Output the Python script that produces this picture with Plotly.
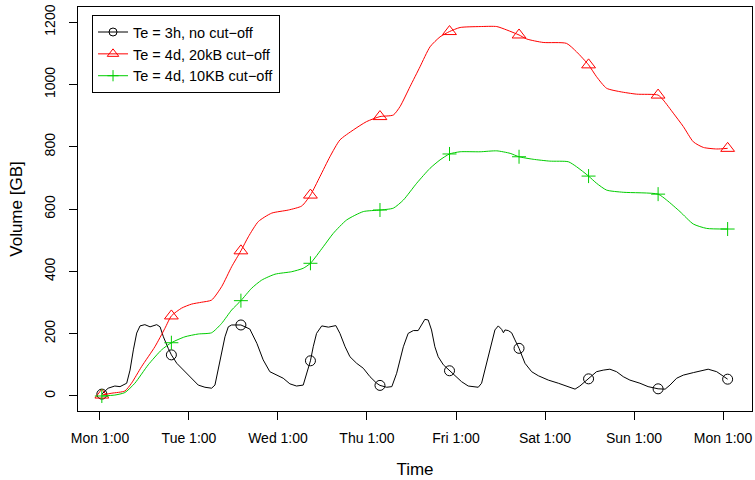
import plotly.graph_objects as go

# ---- data (time in hours since Mon 1:00, volume in GB) ----
TICK_HOURS = [0, 24, 48, 72, 96, 120, 144, 168]
TICK_TEXT = ["Mon 1:00", "Tue 1:00", "Wed 1:00", "Thu 1:00",
             "Fri 1:00", "Sat 1:00", "Sun 1:00", "Mon 1:00"]
Y_TICKS = [0, 200, 400, 600, 800, 1000, 1200]

MARK_HOURS = [0.5, 19.25, 38, 56.75, 75.5, 94.25, 113, 131.75, 150.5, 169.25]

# Te = 3h, no cut-off
black_hours = [0.5, 2.2, 4.0, 5.4, 7.2, 8.1, 9.0, 9.9, 10.8, 12.1, 13.5, 14.3, 15.3, 16.2,
               17.1, 18.4, 19.25, 20.7, 22.5, 24.7, 26.5, 28.3, 30.1, 31.0, 32.4, 33.7,
               34.6, 35.5, 38.0, 40.4, 42.3, 44.0, 45.8, 47.6, 49.4, 51.2, 53.0, 54.8,
               55.7, 56.75, 57.5, 58.4, 59.8, 61.6, 63.6, 64.7, 66.1, 67.4, 69.2, 71.0,
               72.8, 74.6, 75.5, 77.3, 78.7, 80.0, 81.8, 83.1, 84.5, 85.8, 86.7, 87.6,
               88.5, 89.4, 90.3, 91.2, 92.6, 94.25, 95.7, 97.5, 99.3, 102.0, 102.9, 103.8,
               105.2, 106.5, 107.4, 108.3, 108.8, 109.2, 110.1, 111.0, 111.9, 113.0, 114.6,
               116.4, 118.2, 120.9, 123.6, 126.3, 128.1, 129.4, 131.75, 133.9, 135.7,
               137.5, 139.3, 141.1, 142.9, 145.6, 147.8, 150.5, 152.4, 153.7, 155.5,
               157.3, 160.0, 161.8, 164.0, 166.3, 169.25]
black_vals = [6, 25, 32, 30, 41, 83, 148, 202, 225, 229, 222, 225, 229, 222,
              190, 153, 132, 105, 83, 57, 35, 28, 25, 35, 116, 190,
              222, 228, 228, 215, 169, 116, 78, 67, 57, 39, 32, 35,
              73, 113, 158, 201, 225, 221, 226, 201, 158, 126, 105, 89,
              62, 41, 34, 28, 30, 73, 158, 201, 210, 210, 228, 246,
              244, 212, 158, 126, 100, 81, 67, 46, 32, 28, 41, 83,
              158, 212, 225, 214, 203, 212, 210, 203, 180, 153, 105,
              78, 65, 51, 41, 30, 22, 32, 55, 78, 83,
              86, 78, 62, 51, 41, 30, 23, 22, 35, 57,
              67, 75, 80, 86, 78, 54]
black_marks = [6, 132, 228, 113, 34, 81, 153, 55, 23, 54]

# Te = 4d, 20kB cut-off
red_hours = [0.5, 3.2, 6.7, 8.5, 11.2, 14.8, 17.5, 19.25, 22.0, 24.7, 27.4, 30.1, 32.8,
             35.5, 38.0, 40.0, 42.7, 46.3, 50.8, 54.4, 56.75, 59.3, 62.0, 64.7, 68.3,
             71.9, 75.5, 79.1, 80.9, 83.6, 86.3, 89.0, 91.7, 94.25, 97.1, 102.5, 107.0,
             109.7, 113.0, 115.1, 119.5, 125.8, 128.5, 131.75, 133.9, 136.6, 140.2,
             144.7, 150.5, 151.9, 154.6, 157.3, 160.0, 162.7, 166.3, 169.25]
red_vals = [3, 9, 16, 41, 94, 158, 217, 257, 282, 295, 301, 308, 351,
            415, 466, 511, 560, 587, 597, 610, 645, 704, 768, 822, 854,
            881, 897, 902, 929, 993, 1057, 1121, 1153, 1170, 1183, 1186, 1186,
            1175, 1159, 1146, 1135, 1132, 1105, 1063, 1025, 988, 977,
            969, 966, 950, 908, 865, 816, 798, 793, 795]
red_marks = [3, 257, 466, 645, 897, 1170, 1159, 1063, 966, 795]

# Te = 4d, 10KB cut-off
green_hours = [0.5, 4.0, 6.7, 9.4, 13.0, 16.6, 19.25, 22.9, 26.5, 30.1, 32.8, 35.5,
               38.0, 40.9, 43.6, 47.2, 51.7, 54.8, 56.75, 60.2, 62.9, 66.5, 71.0,
               75.5, 79.1, 81.8, 85.4, 89.0, 91.7, 94.25, 97.1, 102.5, 107.0, 110.6,
               113.0, 116.8, 121.3, 126.3, 128.5, 131.75, 133.9, 136.6, 141.1, 150.5,
               152.8, 156.4, 160.0, 163.6, 169.25]
green_vals = [0, 3, 11, 41, 100, 148, 171, 190, 199, 203, 233, 276,
              306, 346, 372, 391, 399, 410, 426, 479, 522, 565, 592,
              597, 603, 629, 683, 731, 758, 777, 784, 784, 787, 779,
              768, 760, 754, 752, 736, 706, 683, 661, 654, 648,
              629, 592, 552, 538, 536]
green_marks = [0, 171, 306, 426, 597, 777, 768, 706, 648, 536]

SERIES = [
    ("Te = 3h, no cut\u2212off", black_hours, black_vals, black_marks,
     "#000000", "circle-open", 10, "linear"),
    ("Te = 4d, 20kB cut\u2212off", red_hours, red_vals, red_marks,
     "#FF0000", "triangle-up-open", 12, "spline"),
    ("Te = 4d, 10KB cut\u2212off", green_hours, green_vals, green_marks,
     "#00CD00", "cross-thin-open", 10, "spline"),
]

FONT = "Liberation Sans, Arial, Helvetica, sans-serif"

fig = go.Figure()
for name, hx, vy, mk, col, sym, sz, shape in SERIES:
    fig.add_trace(go.Scatter(
        x=hx, y=vy, mode="lines", showlegend=False, hoverinfo="skip",
        line=dict(color=col, width=1, shape=shape, smoothing=0.6)))
    fig.add_trace(go.Scatter(
        x=MARK_HOURS, y=mk, mode="markers", showlegend=False,
        marker=dict(symbol=sym, size=sz, color=col, line=dict(color=col, width=1))))
for name, hx, vy, mk, col, sym, sz, shape in SERIES:
    fig.add_trace(go.Scatter(
        x=[None], y=[None], mode="lines+markers", name=name,
        line=dict(color=col, width=1),
        marker=dict(symbol=sym, size=sz - 2, color=col, line=dict(color=col, width=1))))

fig.update_layout(
    width=755, height=480,
    margin=dict(l=78, r=3, t=7, b=69),
    paper_bgcolor="white", plot_bgcolor="white",
    font=dict(family=FONT, size=14, color="black"),
    legend=dict(x=0.0208, y=0.980, xanchor="left", yanchor="top",
                bordercolor="black", borderwidth=1, bgcolor="white",
                font=dict(size=14.5), tracegroupgap=0, itemwidth=30),
    xaxis=dict(range=[-5.93, 175.82], tickmode="array", tickvals=TICK_HOURS,
               ticktext=TICK_TEXT, ticks="outside", ticklen=8, tickcolor="black",
               showline=True, linecolor="black", linewidth=1, mirror=True,
               showgrid=False, zeroline=False, ticklabelstandoff=6, automargin=False,
               title=dict(text="Time", standoff=18)),
    yaxis=dict(range=[-48.2, 1248.8], tickmode="array", tickvals=Y_TICKS,
               ticks="outside", ticklen=8, tickcolor="black", tickangle=-90,
               showline=True, linecolor="black", linewidth=1, mirror=True,
               showgrid=False, zeroline=False, ticklabelstandoff=8, automargin=False,
               title=dict(text="Volume [GB]", standoff=15)),
)

fig.write_html("out.html", post_script="document.body.style.margin='0px';",
               config={"displayModeBar": False})
